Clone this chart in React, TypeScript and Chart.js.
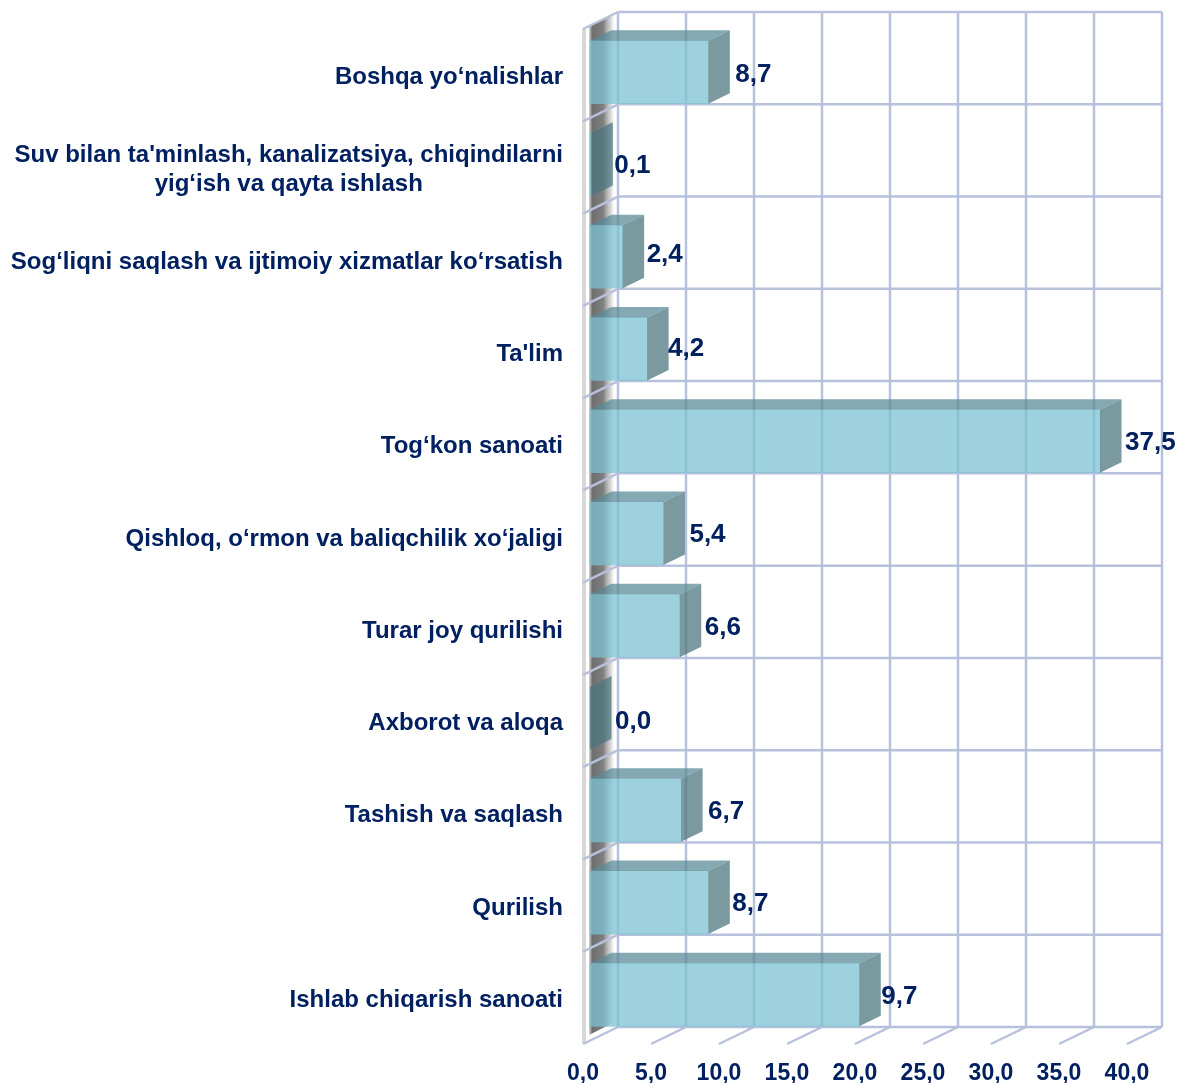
import React, { useEffect, useRef } from "react";
import { Chart, registerables } from "chart.js";

Chart.register(...registerables);

const categories: (string | string[])[] = [
  "Boshqa yo‘nalishlar",
  ["Suv bilan ta'minlash, kanalizatsiya, chiqindilarni", "yig‘ish va qayta ishlash"],
  "Sog‘liqni saqlash va ijtimoiy xizmatlar ko‘rsatish",
  "Ta'lim",
  "Tog‘kon sanoati",
  "Qishloq, o‘rmon va baliqchilik xo‘jaligi",
  "Turar joy qurilishi",
  "Axborot va aloqa",
  "Tashish va saqlash",
  "Qurilish",
  "Ishlab chiqarish sanoati",
];
const values = [8.7, 0.1, 2.4, 4.2, 37.5, 5.4, 6.6, 0, 6.7, 8.7, 19.8];
const valueLabels = ["8,7", "0,1", "2,4", "4,2", "37,5", "5,4", "6,6", "0,0", "6,7", "8,7", "9,7"];

const labelNudgeX = [5.5, 1.5, 2.5, -0.5, 3.5, 4.5, 3.5, 3.5, 5.5, 2.5, 0.5];
const labelNudgeY = [0, -2, -5, -3, -1, -2, -1, 1, -1, -2, -1];

const NAVY = "#002060";
const FONT = "'Liberation Sans', Arial, sans-serif";
const GRID = "#b8c1dc";
const WALL_DX = 35;
const WALL_DY = 17;
const BAR_OFFSET_X = 7;
const BAR_OFFSET_Y = 3;
const BAR_DEPTH_X = 21.5;
const BAR_DEPTH_Y = 10.5;
const FRONT = "rgba(124,193,211,0.75)";
const TOP = "rgba(89,139,151,0.74)";
const SIDE = "rgba(76,119,125,0.74)";

const poly = (ctx: CanvasRenderingContext2D, pts: number[][], fill: any) => {
  ctx.beginPath();
  pts.forEach(([x, y], i) => (i ? ctx.lineTo(x, y) : ctx.moveTo(x, y)));
  ctx.closePath();
  ctx.fillStyle = fill;
  ctx.fill();
};
const line = (ctx: CanvasRenderingContext2D, x0: number, y0: number, x1: number, y1: number) => {
  ctx.beginPath();
  ctx.moveTo(x0, y0);
  ctx.lineTo(x1, y1);
  ctx.stroke();
};

const box3d = {
  id: "box3d",
  beforeDraw(chart: any) {
    // Centre the wrapped category label as a block, as in the reference.
    const items = chart.scales.y.getLabelItems?.(chart.chartArea) ?? [];
    items.forEach((item: any) => {
      if (Array.isArray(item.label) && item.options.textAlign === "right") {
        const c = chart.ctx;
        c.save();
        c.font = `bold 24px ${FONT}`;
        const w = Math.max(...item.label.map((s: string) => c.measureText(s).width));
        c.restore();
        item.options.textAlign = "center";
        item.options.translation = [item.options.translation[0] - w / 2, item.options.translation[1]];
      }
    });
  },
  beforeDatasetsDraw(chart: any) {
    const { ctx, chartArea: a, scales } = chart;
    const { x, y } = scales;
    ctx.save();
    // Dark shadow strip on the left wall
    const sx0 = a.left + 6;
    const sx1 = a.left + 32;
    const g = ctx.createLinearGradient(sx0, 0, sx1, 0);
    g.addColorStop(0, "rgba(120,120,120,0.3)");
    g.addColorStop(0.12, "rgba(85,85,85,0.85)");
    g.addColorStop(0.55, "rgba(95,95,95,0.8)");
    g.addColorStop(0.85, "rgba(150,150,150,0.35)");
    g.addColorStop(1, "rgba(230,230,230,0)");
    poly(ctx, [[sx0, a.top - 3], [sx1, a.top - 15], [sx1, a.bottom - 22], [sx0, a.bottom - 9]], g);
    // Front edge of the left wall
    ctx.strokeStyle = "#d8d8d8";
    ctx.lineWidth = 4;
    line(ctx, a.left + 1, a.top, a.left + 1, a.bottom);
    // Back wall, floor and left wall rules
    ctx.strokeStyle = GRID;
    ctx.lineWidth = 2.5;
    x.ticks.forEach((t: any) => {
      const px = x.getPixelForValue(t.value);
      line(ctx, px + WALL_DX, a.top - WALL_DY, px + WALL_DX, a.bottom - WALL_DY);
      line(ctx, px, a.bottom, px + WALL_DX, a.bottom - WALL_DY);
    });
    for (let i = 0; i <= categories.length; i++) {
      const py = y.getPixelForValue(i - 0.5);
      line(ctx, a.left + WALL_DX, py - WALL_DY, a.right + WALL_DX, py - WALL_DY);
      if (i < categories.length) line(ctx, a.left, py, a.left + WALL_DX, py - WALL_DY);
    }
    ctx.restore();
    ctx.save();
    ctx.translate(BAR_OFFSET_X, -BAR_OFFSET_Y);
  },
  afterDatasetsDraw(chart: any) {
    const { ctx, scales } = chart;
    ctx.restore();
    const meta = chart.getDatasetMeta(0);
    ctx.save();
    meta.data.forEach((bar: any) => {
      const half = bar.height / 2;
      const l = scales.x.getPixelForValue(0) + BAR_OFFSET_X;
      const r = bar.x + BAR_OFFSET_X;
      const t = bar.y - half - BAR_OFFSET_Y;
      const b = bar.y + half - BAR_OFFSET_Y;
      poly(ctx, [[l, t], [r, t], [r + BAR_DEPTH_X, t - BAR_DEPTH_Y], [l + BAR_DEPTH_X, t - BAR_DEPTH_Y]], TOP);
      poly(ctx, [[r, t], [r + BAR_DEPTH_X, t - BAR_DEPTH_Y], [r + BAR_DEPTH_X, b - BAR_DEPTH_Y], [r, b]], SIDE);
    });
    ctx.font = `bold 26px ${FONT}`;
    ctx.fillStyle = NAVY;
    ctx.textAlign = "left";
    ctx.textBaseline = "middle";
    meta.data.forEach((bar: any, i: number) => {
      ctx.fillText(
        valueLabels[i],
        bar.x + BAR_OFFSET_X + BAR_DEPTH_X + labelNudgeX[i],
        bar.y + labelNudgeY[i]
      );
    });
    ctx.restore();
  },
};

export default function App() {
  const ref = useRef<HTMLCanvasElement>(null);
  useEffect(() => {
    const chart = new Chart(ref.current as HTMLCanvasElement, {
      type: "bar",
      data: {
        labels: categories as any,
        datasets: [
          {
            data: values,
            backgroundColor: FRONT,
            borderWidth: 0,
            barThickness: 63,
            clip: false as any,
          },
        ],
      },
      options: {
        indexAxis: "y",
        animation: false,
        responsive: false,
        devicePixelRatio: 1,
        layout: { padding: { top: 29, right: 52, left: 0, bottom: 0 } },
        plugins: { legend: { display: false }, tooltip: { enabled: false } },
        scales: {
          x: {
            min: 0,
            max: 40,
            grid: { display: false, drawTicks: false },
            border: { display: false },
            afterFit: (s: any) => {
              s.height = 39;
            },
            ticks: {
              stepSize: 5,
              padding: 16,
              maxRotation: 0,
              autoSkip: false,
              color: NAVY,
              font: { family: FONT, size: 23, weight: "bold" },
              callback: (v: any) => Number(v).toFixed(1).replace(".", ","),
            },
          },
          y: {
            grid: { display: false, drawTicks: false },
            border: { display: false },
            afterFit: (s: any) => {
              s.width = 583;
              s.paddingTop = 0;
              s.paddingBottom = 0;
            },
            ticks: {
              padding: 20,
              labelOffset: 2.5,
              autoSkip: false,
              color: NAVY,
              font: { family: FONT, size: 24, weight: "bold" },
            },
          },
        },
      },
      plugins: [box3d],
    } as any);
    return () => chart.destroy();
  }, []);
  return (
    <div style={{ position: "fixed", left: 0, top: 0, width: 1179, height: 1083 }}>
      <canvas ref={ref} width={1179} height={1083} style={{ display: "block" }} />
    </div>
  );
}
